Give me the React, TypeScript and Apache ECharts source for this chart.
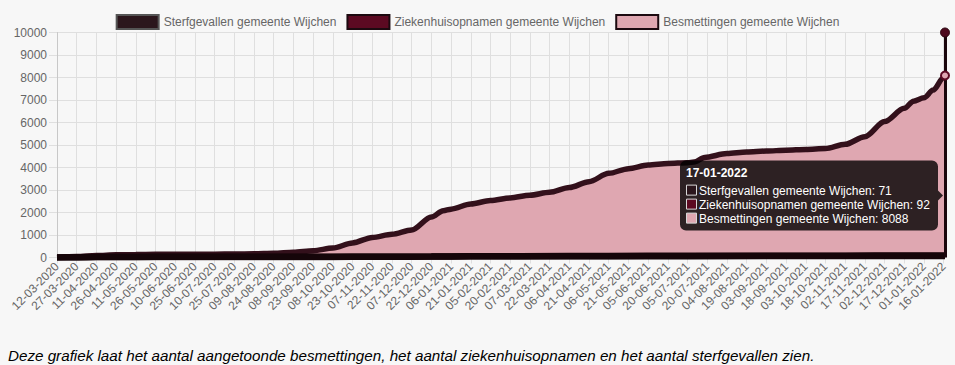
import React, { useEffect, useRef } from "react";
import * as echarts from "echarts";

const seriesNames = [
  "Sterfgevallen gemeente Wijchen",
  "Ziekenhuisopnamen gemeente Wijchen",
  "Besmettingen gemeente Wijchen",
];
const startDate = "12-03-2020";
const endDate = "17-01-2022";
const yTicks = [0, 1000, 2000, 3000, 4000, 5000, 6000, 7000, 8000, 9000, 10000];

const besmettingenDates = [
  "12-03-2020", "27-03-2020", "11-04-2020", "26-04-2020", "11-05-2020", "26-05-2020",
  "10-06-2020", "25-06-2020", "10-07-2020", "25-07-2020", "09-08-2020", "24-08-2020",
  "08-09-2020", "23-09-2020", "08-10-2020", "23-10-2020", "07-11-2020", "22-11-2020",
  "07-12-2020", "22-12-2020", "31-12-2020", "06-01-2021", "21-01-2021", "05-02-2021",
  "20-02-2021", "07-03-2021", "22-03-2021", "06-04-2021", "21-04-2021", "06-05-2021",
  "21-05-2021", "05-06-2021", "20-06-2021", "05-07-2021", "10-07-2021", "18-07-2021",
  "04-08-2021", "19-08-2021", "03-09-2021", "18-09-2021", "03-10-2021", "18-10-2021",
  "02-11-2021", "17-11-2021", "02-12-2021", "17-12-2021", "24-12-2021", "01-01-2022",
  "08-01-2022", "16-01-2022", "17-01-2022",
];
const besmettingenValues = [
  5, 40, 90, 120, 135, 140,
  145, 148, 150, 155, 165, 185,
  230, 300, 420, 650, 890, 1030,
  1220, 1800, 2080, 2150, 2380, 2530,
  2650, 2770, 2900, 3110, 3370, 3740,
  3950, 4110, 4180, 4215, 4240, 4450,
  4620, 4690, 4730, 4770, 4800, 4840,
  5030, 5370, 6040, 6630, 6950, 7100,
  7440, 8000, 8088,
];

const sterfgevallenDates = [
  "12-03-2020", "27-03-2020", "11-04-2020", "26-04-2020", "26-05-2020", "08-10-2020",
  "07-11-2020", "22-12-2020", "21-01-2021", "06-04-2021", "05-07-2021", "02-11-2021",
  "17-12-2021", "17-01-2022",
];
const sterfgevallenValues = [0, 5, 18, 25, 28, 29, 35, 42, 52, 58, 61, 63, 68, 71];

const ziekenhuisDates = [
  "12-03-2020", "27-03-2020", "11-04-2020", "26-05-2020", "08-10-2020", "07-11-2020",
  "22-12-2020", "21-01-2021", "06-04-2021", "05-06-2021", "02-11-2021", "17-12-2021",
  "17-01-2022",
];
const ziekenhuisValues = [0, 8, 17, 20, 24, 32, 42, 52, 65, 75, 80, 88, 92];

const DAY = 86400000;
function toUTC(s: string) {
  const [d, m, y] = s.split("-").map(Number);
  return Date.UTC(y, m - 1, d);
}
const startUTC = toUTC(startDate);
function dayIndex(s: string) {
  return Math.round((toUTC(s) - startUTC) / DAY);
}
function dayLabel(i: number) {
  const t = new Date(startUTC + i * DAY);
  const dd = String(t.getUTCDate()).padStart(2, "0");
  const mm = String(t.getUTCMonth() + 1).padStart(2, "0");
  return `${dd}-${mm}-${t.getUTCFullYear()}`;
}

const colors = {
  sterf: "#2b161c",
  ziek: "#5c0a22",
  besmFill: "#dfa7b1",
  besmLine: "#33101b",
  border: "#1c0a10",
  grid: "#dfdfdf",
  text: "#666666",
};
const FONT = '"Liberation Sans", Arial, Helvetica, sans-serif';

export default function App() {
  const ref = useRef<HTMLDivElement>(null);

  useEffect(() => {
    document.body.style.margin = "0";
    document.body.style.background = "#f7f7f7";
    const chart = echarts.init(ref.current!, null, { renderer: "svg" });
    const lastDay = dayIndex(endDate);
    const yMax = yTicks[yTicks.length - 1];
    const mk = (dates: string[], vals: number[]) => dates.map((d, i) => [dayIndex(d), vals[i]]);

    const option: any = {
      animation: false,
      backgroundColor: "#f7f7f7",
      textStyle: { fontFamily: FONT },
      legend: {
        top: 9,
        left: "center",
        itemWidth: 42,
        itemHeight: 14,
        itemGap: 10,
        textStyle: { color: colors.text, fontSize: 12, fontFamily: FONT },
        data: [
          { name: seriesNames[0], icon: "rect", itemStyle: { color: colors.sterf, borderColor: "#555", borderWidth: 2 } },
          { name: seriesNames[1], icon: "rect", itemStyle: { color: colors.ziek, borderColor: colors.border, borderWidth: 2 } },
          { name: seriesNames[2], icon: "rect", itemStyle: { color: colors.besmFill, borderColor: colors.border, borderWidth: 2 } },
        ],
      },
      grid: { left: 57, right: 10, top: 32.5, bottom: 107.5 },
      xAxis: {
        type: "value",
        min: 0,
        max: lastDay,
        interval: 15,
        axisLine: { show: true, lineStyle: { color: "#c8c8c8" } },
        axisTick: { show: true, length: 6, lineStyle: { color: colors.grid } },
        splitLine: { show: true, lineStyle: { color: colors.grid, width: 1 } },
        axisLabel: {
          rotate: 45,
          margin: 7,
          color: colors.text,
          fontSize: 12,
          fontFamily: FONT,
          showMaxLabel: false,
          formatter: (v: number) => (v % 15 === 0 && v < lastDay ? dayLabel(v) : ""),
        },
      },
      yAxis: {
        type: "value",
        min: yTicks[0],
        max: yMax,
        interval: 1000,
        axisLine: { show: true, lineStyle: { color: "#c8c8c8" } },
        axisTick: { show: true, length: 8, lineStyle: { color: colors.grid } },
        splitLine: { show: true, lineStyle: { color: colors.grid, width: 1 } },
        axisLabel: {
          margin: 10,
          color: colors.text,
          fontSize: 12,
          fontFamily: FONT,
          formatter: (v: number) => String(v),
        },
      },
      series: [
        {
          name: seriesNames[0],
          type: "line",
          z: 4,
          data: mk(sterfgevallenDates, sterfgevallenValues),
          showSymbol: false,
          smooth: 0.3,
          smoothMonotone: "x",
          lineStyle: { color: "#150509", width: 6.5 },
          itemStyle: { color: colors.sterf },
        },
        {
          name: seriesNames[1],
          type: "line",
          z: 3,
          data: mk(ziekenhuisDates, ziekenhuisValues),
          showSymbol: false,
          smooth: 0.3,
          smoothMonotone: "x",
          lineStyle: { color: "#1c060c", width: 6.5 },
          itemStyle: { color: colors.ziek },
        },
        {
          name: seriesNames[2],
          type: "line",
          z: 2,
          data: mk(besmettingenDates, besmettingenValues),
          showSymbol: false,
          smooth: 0.3,
          smoothMonotone: "x",
          lineStyle: { color: colors.besmLine, width: 5.5 },
          areaStyle: { color: colors.besmFill, opacity: 1 },
          itemStyle: { color: colors.besmFill },
          markLine: {
            silent: true,
            symbol: ["none", "none"],
            label: { show: false },
            lineStyle: { color: "#1a060c", width: 3, type: "solid" },
            data: [{ xAxis: lastDay }],
          },
          markPoint: {
            silent: true,
            symbol: "circle",
            symbolSize: 8,
            label: { show: false },
            data: [
              {
                coord: [lastDay, besmettingenValues[besmettingenValues.length - 1]],
                itemStyle: { color: colors.besmFill, borderColor: "#5c0a22", borderWidth: 2 },
              },
              {
                coord: [lastDay, yMax],
                symbolSize: 9,
                itemStyle: { color: "#4e0a1e", borderColor: "#2a0610", borderWidth: 1 },
              },
            ],
          },
        },
      ],
      graphic: [
        {
          id: "caption",
          type: "text",
          silent: true,
          style: {
            text: "Deze grafiek laat het aantal aangetoonde besmettingen, het aantal ziekenhuisopnamen en het aantal sterfgevallen zien.",
            x: 8,
            y: 355,
            font: `italic 15.2px ${FONT}`,
            fill: "#000",
            textVerticalAlign: "middle",
          },
        },
      ],
    };
    chart.setOption(option);

    // Tooltip (Chart.js style) positioned from the data
    const lastVals = [
      sterfgevallenValues[sterfgevallenValues.length - 1],
      ziekenhuisValues[ziekenhuisValues.length - 1],
      besmettingenValues[besmettingenValues.length - 1],
    ];
    const pts = lastVals.map((v) => chart.convertToPixel({ gridIndex: 0 }, [lastDay, v]) as number[]);
    const pointX = pts[0][0];
    const caretY = (pts[0][1] + pts[1][1] + pts[2][1]) / 3;
    const boxW = 258;
    const boxH = 70;
    const boxRight = pointX - 2 - 5;
    const boxLeft = boxRight - boxW;
    const boxTop = caretY - boxH / 2;
    const swatches = [colors.sterf, colors.ziek, colors.besmFill];
    const bg = "rgba(0,0,0,0.8)";
    const tipEls: any[] = [
      {
        id: "tipBox",
        type: "rect",
        silent: true,
        z: 100,
        shape: { x: boxLeft, y: boxTop, width: boxW, height: boxH, r: 6 },
        style: { fill: bg },
      },
      {
        id: "tipCaret",
        type: "polygon",
        silent: true,
        z: 100,
        shape: { points: [[boxRight, caretY - 5], [boxRight + 5, caretY], [boxRight, caretY + 5]] },
        style: { fill: bg },
      },
      {
        id: "tipTitle",
        type: "text",
        silent: true,
        z: 101,
        style: {
          text: dayLabel(lastDay),
          x: boxLeft + 6,
          y: boxTop + 6,
          font: `bold 12px ${FONT}`,
          fill: "#fff",
          textVerticalAlign: "top",
        },
      },
    ];
    seriesNames.forEach((n, i) => {
      const ly = boxTop + 24 + i * 14;
      tipEls.push({
        id: "tipSw" + i,
        type: "rect",
        silent: true,
        z: 101,
        shape: { x: boxLeft + 6.5, y: ly + 0.5, width: 10, height: 10 },
        style: { fill: swatches[i], stroke: "#d8d8d8", lineWidth: 1 },
      });
      tipEls.push({
        id: "tipTx" + i,
        type: "text",
        silent: true,
        z: 101,
        style: {
          text: `${n}: ${lastVals[i]}`,
          x: boxLeft + 19,
          y: ly,
          font: `12px ${FONT}`,
          fill: "#fff",
          textVerticalAlign: "top",
        },
      });
    });
    chart.setOption({ graphic: [option.graphic[0], ...tipEls] });

    return () => chart.dispose();
  }, []);

  return <div ref={ref} style={{ width: 955, height: 365, background: "#f7f7f7" }} />;
}
